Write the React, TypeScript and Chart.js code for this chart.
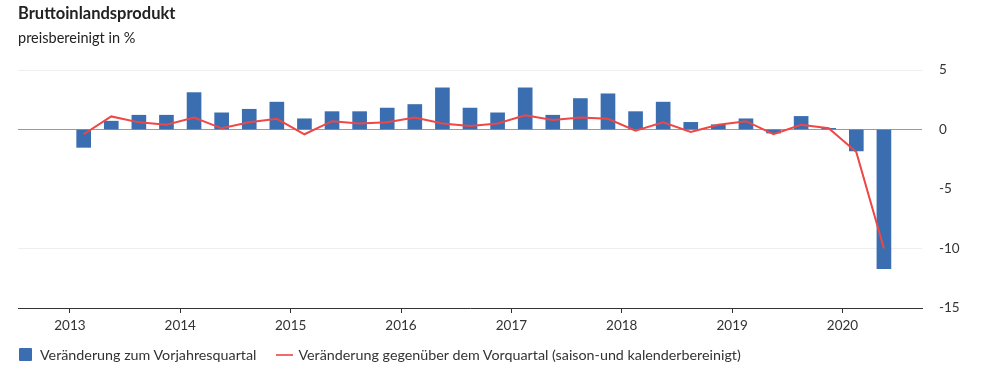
import React, { useEffect, useRef } from "react";
import { Chart, registerables } from "chart.js";

Chart.register(...registerables);

const quarters = [
  "2013-Q1", "2013-Q2", "2013-Q3", "2013-Q4",
  "2014-Q1", "2014-Q2", "2014-Q3", "2014-Q4",
  "2015-Q1", "2015-Q2", "2015-Q3", "2015-Q4",
  "2016-Q1", "2016-Q2", "2016-Q3", "2016-Q4",
  "2017-Q1", "2017-Q2", "2017-Q3", "2017-Q4",
  "2018-Q1", "2018-Q2", "2018-Q3", "2018-Q4",
  "2019-Q1", "2019-Q2", "2019-Q3", "2019-Q4",
  "2020-Q1", "2020-Q2",
];

const yoyChange = [
  -1.5, 0.7, 1.2, 1.2,
  3.1, 1.4, 1.7, 2.3,
  0.9, 1.5, 1.5, 1.8,
  2.1, 3.5, 1.8, 1.4,
  3.5, 1.2, 2.6, 3.0,
  1.5, 2.3, 0.6, 0.4,
  0.9, -0.3, 1.1, 0.1,
  -1.8, -11.7,
];

const qoqChange = [
  -0.4, 1.1, 0.6, 0.4,
  1.0, 0.1, 0.6, 0.9,
  -0.4, 0.7, 0.5, 0.6,
  1.0, 0.5, 0.3, 0.5,
  1.2, 0.8, 1.0, 0.9,
  -0.1, 0.6, -0.2, 0.4,
  0.7, -0.4, 0.4, 0.1,
  -1.9, -10.0,
];

const yearTicks = [2013, 2014, 2015, 2016, 2017, 2018, 2019, 2020];
const yTicks = [5, 0, -5, -10, -15];
const faintGridValues = [5, -10];

const TITLE = "Bruttoinlandsprodukt";
const SUBTITLE = "preisbereinigt in %";
const LEGEND_BAR = "Veränderung zum Vorjahresquartal";
const LEGEND_LINE = "Veränderung gegenüber dem Vorquartal (saison-und kalenderbereinigt)";

const BAR_COLOR = "#3b6eb0";
const LINE_COLOR = "#ef4646";
const FONT = "Lato, sans-serif";

// quarter label -> position on a continuous year axis (middle of quarter)
const quarterPos = (q: string) => {
  const [y, qq] = q.split("-Q");
  return Number(y) + (Number(qq) - 0.5) / 4;
};

export default function App() {
  const canvasRef = useRef<HTMLCanvasElement | null>(null);

  useEffect(() => {
    if (!canvasRef.current) return;
    const chart = new Chart(canvasRef.current, {
      type: "bar",
      data: {
        datasets: [
          {
            type: "line",
            label: LEGEND_LINE,
            data: quarters.map((q, i) => ({ x: quarterPos(q), y: qoqChange[i] })),
            borderColor: LINE_COLOR,
            borderWidth: 2,
            pointRadius: 0,
            tension: 0,
            order: 0,
          } as any,
          {
            type: "bar",
            label: LEGEND_BAR,
            data: quarters.map((q, i) => ({ x: quarterPos(q), y: yoyChange[i] })),
            backgroundColor: BAR_COLOR,
            barThickness: 14,
            order: 1,
          } as any,
        ],
      },
      options: {
        animation: false,
        responsive: false,
        maintainAspectRatio: false,
        layout: { padding: { left: 18, top: 70, right: 0, bottom: 43 } },
        plugins: { legend: { display: false }, tooltip: { enabled: false } },
        scales: {
          x: {
            type: "linear",
            min: 2012.53,
            max: 2020.72,
            offset: false,
            afterFit: (axis: any) => {
              axis.height = 30;
            },
            afterBuildTicks: (axis: any) => {
              axis.ticks = yearTicks.map((v) => ({ value: v }));
            },
            ticks: {
              includeBounds: false,
              color: "#333",
              font: { family: FONT, size: 13.5 },
              padding: 5,
              callback: (v: any) => String(v),
            },
            grid: {
              offset: false,
              drawOnChartArea: false,
              drawTicks: true,
              tickLength: 5,
              color: "#333",
            },
            border: { display: true, color: "#333", width: 1 },
          },
          y: {
            position: "right",
            min: -15,
            max: 5,
            afterFit: (axis: any) => {
              axis.width = 78;
            },
            afterBuildTicks: (axis: any) => {
              axis.ticks = yTicks.map((v) => ({ value: v }));
            },
            ticks: {
              color: "#333",
              font: { family: FONT, size: 13.5 },
              padding: 17,
            },
            grid: {
              drawTicks: false,
              color: (ctx: any) => {
                const v = ctx.tick ? ctx.tick.value : null;
                if (v === 0) return "#9a9a9a";
                if (faintGridValues.includes(v)) return "#eeeeee";
                return "rgba(0,0,0,0)";
              },
              lineWidth: 1,
            },
            border: { display: false },
          },
        },
      },
    });
    return () => chart.destroy();
  }, []);

  return (
    <div
      style={{
        position: "fixed",
        left: 0,
        top: 0,
        width: 1000,
        height: 381,
        background: "#fff",
        fontFamily: FONT,
        color: "#222",
      }}
    >
      <canvas
        ref={canvasRef}
        width={1000}
        height={381}
        style={{ position: "absolute", left: 0, top: 0, width: 1000, height: 381 }}
      />
      <div
        style={{
          position: "absolute",
          left: 18,
          top: 3,
          fontSize: 16.5,
          fontWeight: 700,
          color: "#222",
          whiteSpace: "nowrap",
        }}
      >
        {TITLE}
      </div>
      <div
        style={{
          position: "absolute",
          left: 18,
          top: 29,
          fontSize: 14.5,
          color: "#222",
          whiteSpace: "nowrap",
        }}
      >
        {SUBTITLE}
      </div>
      <div
        style={{
          position: "absolute",
          left: 19,
          top: 346,
          display: "flex",
          alignItems: "center",
          fontSize: 14.3,
          color: "#333",
          whiteSpace: "nowrap",
        }}
      >
        <span
          style={{ display: "inline-block", width: 13, height: 13, background: BAR_COLOR, borderRadius: 1, marginRight: 8 }}
        />
        <span>{LEGEND_BAR}</span>
        <span
          style={{ display: "inline-block", width: 17, height: 2, background: "#f06a6a", marginLeft: 20, marginRight: 5 }}
        />
        <span>{LEGEND_LINE}</span>
      </div>
    </div>
  );
}
